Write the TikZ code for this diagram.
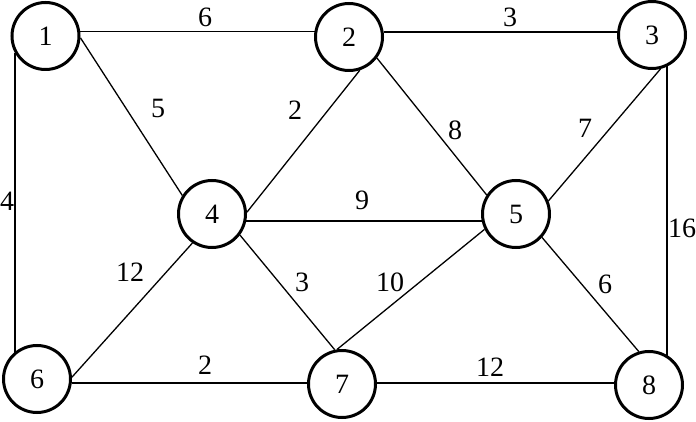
\documentclass[tikz,border=0pt]{standalone}
\usepackage{fontspec}
\setmainfont{Liberation Serif}
\usetikzlibrary{backgrounds}
\begin{document}
\begin{tikzpicture}[x=1pt,y=-1pt,
  vertex/.style={circle,draw,line width=3pt,fill=white,minimum size=67pt,inner sep=0pt,
    font=\fontsize{28}{30}\selectfont},
  wlabel/.style={inner sep=0pt,font=\fontsize{28}{30}\selectfont},
  thinedge/.style={line width=1.3pt},
  thickedge/.style={line width=2pt}]
\useasboundingbox (0,0) rectangle (696,422);
\node[vertex] (n1) at (45.5,36) {1};
\node[vertex] (n2) at (349,37) {2};
\node[vertex] (n3) at (652,35) {3};
\node[vertex] (n4) at (212,214) {4};
\node[vertex] (n5) at (516,214) {5};
\node[vertex] (n6) at (37,379) {6};
\node[vertex] (n7) at (342,384) {7};
\node[vertex] (n8) at (649,385) {8};
\begin{pgfonlayer}{background}
\draw[thinedge] (n1.7) -- (n1.7 -| n2.center);
\draw[line width=1.8pt] (n2.8) -- (n2.8 -| n3.center);
\draw[thickedge] (n1.210) -- (n1.210 |- n6.center);
\draw[thickedge] (n3.-64) -- (n3.-64 |- n8.center);
\draw[thickedge] (n4.-12) -- (n4.-12 -| n5.center);
\draw[thickedge] (n6.-7) -- (n6.-7 -| n7.center);
\draw[thickedge] (n7.2) -- (n7.2 -| n8.center);
\draw[thinedge] (n1.-3) -- (n4.148);
\draw[thinedge] (n2.-72) -- (n4.3);
\draw[thinedge] (n2.-37) -- (n5.147);
\draw[thinedge] (n3.-76) -- (n5.22);
\draw[thinedge] (n4.-124) -- (n6.3);
\draw[thinedge] (n4.-37) -- (n7.102);
\draw[thinedge] (n5.206) -- (n7.98);
\draw[thinedge] (n5.-42) -- (n8.107);
\end{pgfonlayer}
\node[wlabel] (l12) at (205,17) {6};
\node[wlabel] (l23) at (510,17) {3};
\node[wlabel] (l14) at (158,108) {5};
\node[wlabel] (l24) at (295,110) {2};
\node[wlabel] (l25) at (455,130) {8};
\node[wlabel] (l35) at (585,128) {7};
\node[wlabel] (l16) at (7,201) {4};
\node[wlabel] (l45) at (362,200) {9};
\node[wlabel] (l38) at (682,228) {16};
\node[wlabel] (l46) at (130,272) {12};
\node[wlabel] (l47) at (302,282) {3};
\node[wlabel] (l57) at (390,282) {10};
\node[wlabel] (l58) at (605,284) {6};
\node[wlabel] (l67) at (205,365) {2};
\node[wlabel] (l78) at (490,367) {12};
\end{tikzpicture}
\end{document}
